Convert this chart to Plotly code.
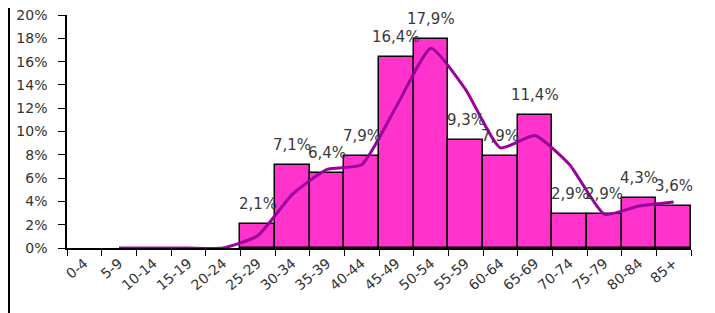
import plotly.graph_objects as go

categories = ["0-4", "5-9", "10-14", "15-19", "20-24", "25-29", "30-34", "35-39",
              "40-44", "45-49", "50-54", "55-59", "60-64", "65-69", "70-74",
              "75-79", "80-84", "85+"]
shares = [0.0, 0.0, 0.0, 0.0, 0.0, 2.1, 7.1, 6.4, 7.9, 16.4, 17.9, 9.3, 7.9,
          11.4, 2.9, 2.9, 4.3, 3.6]
trend_categories = categories[1:]
trend_values = [0.0, 0.0, 0.0, 0.0, 1.05, 4.6, 6.75, 7.15, 12.15, 17.15, 13.6,
                8.6, 9.65, 7.15, 2.9, 3.6, 3.95]
y_ticks = [0, 2, 4, 6, 8, 10, 12, 14, 16, 18, 20]
y_tick_labels = [f"{v}%" for v in y_ticks]

# page body has an 8px default margin, so the figure is offset by 8px
W, H = 707, 305
ml, mr, mt, mb = 59, 24, 7, 65

fig = go.Figure()
fig.add_trace(go.Bar(
    x=categories, y=shares,
    marker=dict(color="#FF33CC",
                line=dict(color="#000000",
                          width=[1.5 if v > 0 else 0 for v in shares])),
    showlegend=False, hoverinfo="skip",
))
fig.add_trace(go.Scatter(
    x=trend_categories, y=trend_values, mode="lines",
    line=dict(color="#9A009E", width=3, shape="spline", smoothing=0.5),
    showlegend=False, hoverinfo="skip",
))

for c, v in zip(categories, shares):
    if v > 0:
        fig.add_annotation(
            x=c, y=v, text=f"{v:.1f}%".replace(".", ","),
            showarrow=False, yanchor="bottom", yshift=9,
            font=dict(family="DejaVu Sans", size=15, color="#3a3a3a"),
        )

fw = W - ml - mr
lx = (1 - ml) / fw
rx = (702 - ml) / fw
for xx in (lx, rx):
    fig.add_shape(type="line", xref="paper", yref="paper",
                  x0=xx, x1=xx, y0=-2, y1=3,
                  line=dict(color="#000000", width=2))

fig.update_layout(
    width=W, height=H,
    margin=dict(l=ml, r=mr, t=mt, b=mb, autoexpand=False),
    paper_bgcolor="#FFFFFF", plot_bgcolor="#FFFFFF",
    bargap=0,
    font=dict(family="DejaVu Sans", color="#333333"),
)
fig.update_xaxes(
    type="category", categoryorder="array", categoryarray=categories,
    range=[-0.5, len(categories) - 0.5], automargin=False,
    showline=True, linecolor="#000000", linewidth=1.5,
    ticks="outside", tickson="boundaries", ticklen=6, tickcolor="#000000",
    tickangle=-40, tickfont=dict(size=14, color="#333333"),
    ticklabeloverflow="allow",
    showgrid=False, zeroline=False,
)
fig.update_yaxes(
    range=[0, 20], tickvals=y_ticks, ticktext=y_tick_labels, automargin=False,
    showline=True, linecolor="#000000", linewidth=1.5,
    ticks="outside", ticklen=7, tickcolor="#000000",
    ticklabelstandoff=8, ticklabeloverflow="allow",
    tickfont=dict(size=14, color="#333333"),
    showgrid=False, zeroline=False,
)

fig.write_html("out.html")
